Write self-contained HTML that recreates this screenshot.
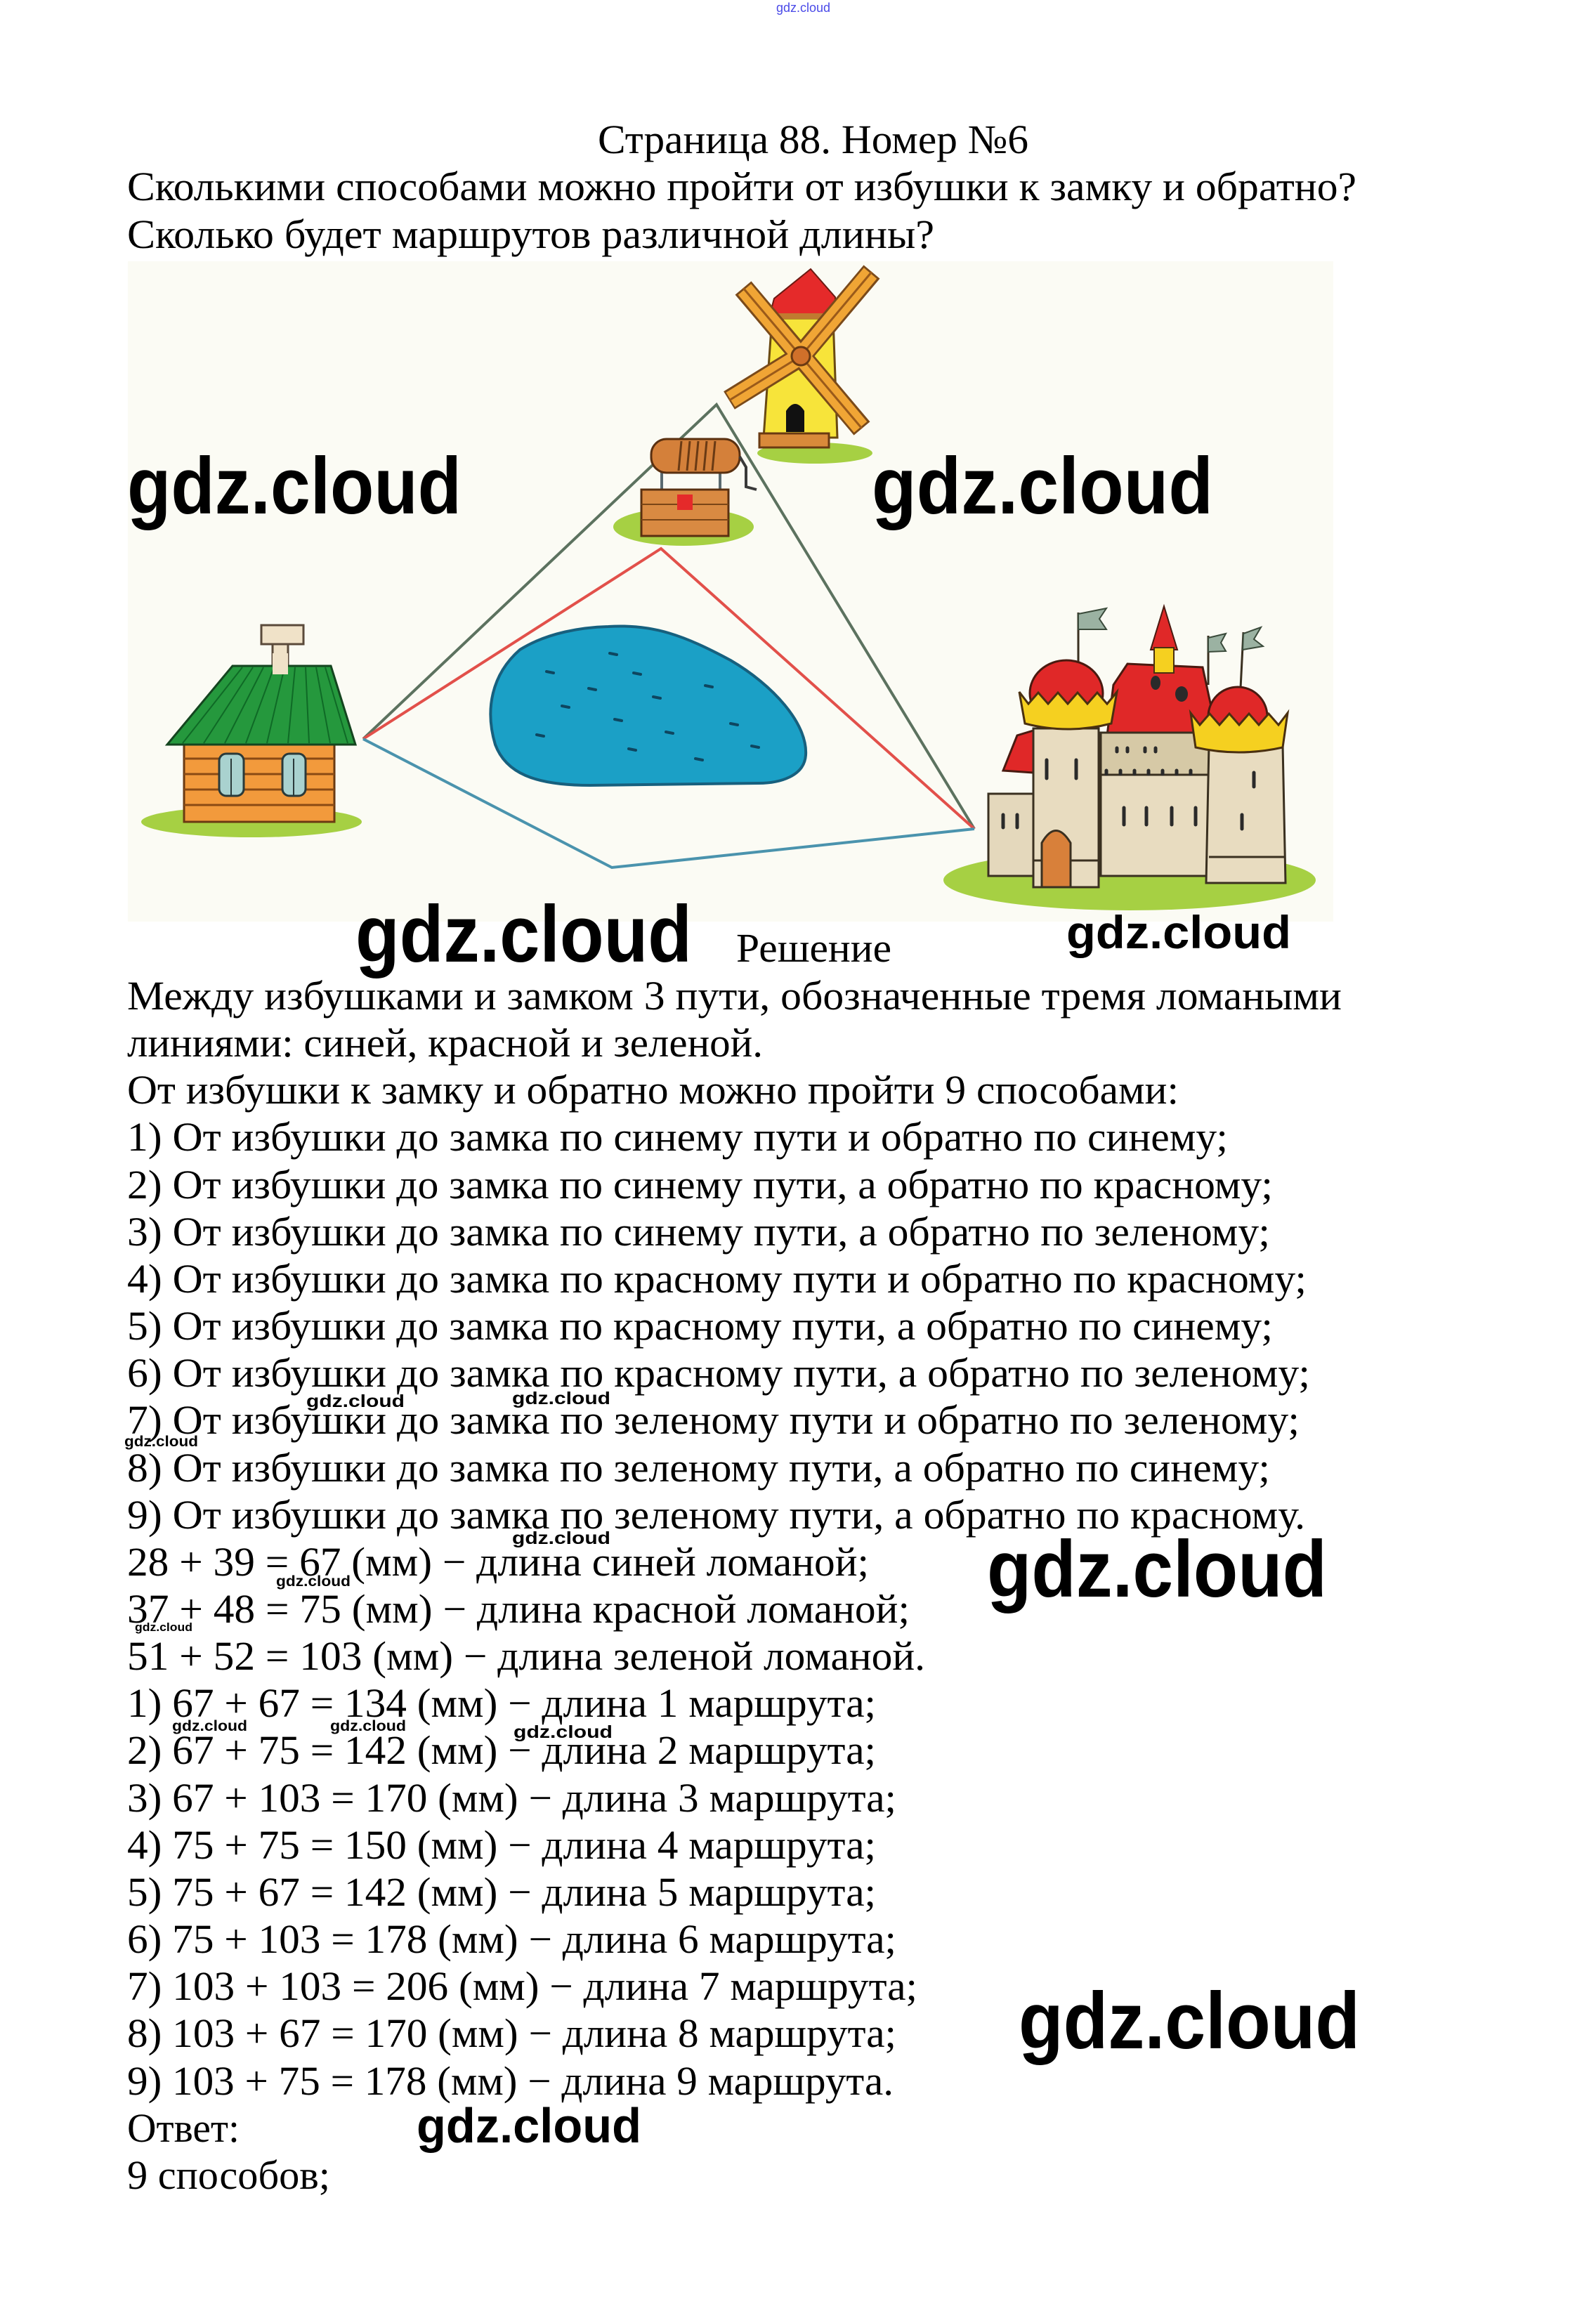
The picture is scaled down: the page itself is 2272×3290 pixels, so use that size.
<!DOCTYPE html>
<html>
<head>
<meta charset="utf-8">
<style>
html,body{margin:0;padding:0;background:#fff;}
svg{display:block;}
.t{font-family:"Liberation Serif","DejaVu Serif",serif;font-size:58px;fill:#000;}
.w{font-family:"Liberation Sans","DejaVu Sans",sans-serif;font-weight:bold;fill:#000;}
</style>
</head>
<body>
<svg width="2272" height="3290" viewBox="0 0 2272 3290" xmlns="http://www.w3.org/2000/svg">
<rect x="0" y="0" width="2272" height="3290" fill="#fff"/>

<!-- top tiny watermark -->
<text class="w" x="1105" y="17" font-size="18" font-weight="normal" fill="#4a4ae8" style="fill:#4a4ae8;font-weight:normal" textLength="77" lengthAdjust="spacingAndGlyphs">gdz.cloud</text>

<!-- header text -->
<text class="t" x="851" y="218" textLength="613" lengthAdjust="spacingAndGlyphs">Страница 88. Номер №6</text>
<text class="t" x="181" y="285" textLength="1750" lengthAdjust="spacingAndGlyphs">Сколькими способами можно пройти от избушки к замку и обратно?</text>
<text class="t" x="181" y="353" textLength="1149" lengthAdjust="spacingAndGlyphs">Сколько будет маршрутов различной длины?</text>

<!-- picture background -->
<rect x="182" y="372" width="1716" height="940" fill="#fbfbf4"/>

<!-- route lines -->
<polyline points="517,1052 1020,576 1387,1180" fill="none" stroke="#5c725f" stroke-width="4"/>
<polyline points="517,1052 941,781 1387,1180" fill="none" stroke="#e2504a" stroke-width="4"/>
<polyline points="517,1052 871,1235 1387,1180" fill="none" stroke="#4a93ad" stroke-width="4"/>

<!-- lake -->
<path d="M866 892 C930 888 975 905 1040 940 C1100 975 1150 1030 1147 1075 C1145 1105 1110 1115 1080 1115 L840 1118 C760 1118 720 1100 705 1060 C690 1010 700 960 740 925 C780 900 830 893 866 892 Z" fill="#1ba0c6" stroke="#17607e" stroke-width="4"/>
<g stroke="#0e4660" stroke-width="4" stroke-linecap="round">
<line x1="868" y1="930" x2="878" y2="932"/>
<line x1="778" y1="956" x2="788" y2="958"/>
<line x1="902" y1="958" x2="912" y2="960"/>
<line x1="838" y1="980" x2="848" y2="982"/>
<line x1="930" y1="992" x2="940" y2="994"/>
<line x1="800" y1="1005" x2="810" y2="1007"/>
<line x1="875" y1="1024" x2="885" y2="1026"/>
<line x1="948" y1="1042" x2="958" y2="1044"/>
<line x1="764" y1="1046" x2="774" y2="1048"/>
<line x1="895" y1="1066" x2="905" y2="1068"/>
<line x1="1004" y1="976" x2="1014" y2="978"/>
<line x1="1040" y1="1030" x2="1050" y2="1032"/>
<line x1="1070" y1="1062" x2="1080" y2="1064"/>
<line x1="990" y1="1080" x2="1000" y2="1082"/>
</g>

<!-- house -->
<ellipse cx="358" cy="1170" rx="157" ry="22" fill="#a6d043"/>
<rect x="388" y="915" width="22" height="50" fill="#f0e2c8" stroke="#5a4a3a" stroke-width="3"/>
<rect x="372" y="890" width="60" height="27" fill="#f0e2c8" stroke="#5a4a3a" stroke-width="3"/>
<rect x="262" y="1058" width="214" height="112" fill="#f29a3c" stroke="#6a3a12" stroke-width="3"/>
<g stroke="#8a4a14" stroke-width="3">
<line x1="262" y1="1080" x2="476" y2="1080"/>
<line x1="262" y1="1102" x2="476" y2="1102"/>
<line x1="262" y1="1124" x2="476" y2="1124"/>
<line x1="262" y1="1146" x2="476" y2="1146"/>
</g>
<rect x="312" y="1073" width="35" height="60" rx="10" fill="#a9d2cf" stroke="#2a3a3a" stroke-width="3"/>
<rect x="402" y="1073" width="33" height="60" rx="10" fill="#a9d2cf" stroke="#2a3a3a" stroke-width="3"/>
<line x1="329" y1="1080" x2="329" y2="1133" stroke="#2a3a3a" stroke-width="2"/>
<line x1="418" y1="1080" x2="418" y2="1133" stroke="#2a3a3a" stroke-width="2"/>
<polygon points="331,948 471,948 506,1060 238,1060" fill="#25983d" stroke="#14451f" stroke-width="3"/>
<g stroke="#0f6a26" stroke-width="2">
<line x1="345" y1="950" x2="260" y2="1058"/>
<line x1="360" y1="950" x2="290" y2="1058"/>
<line x1="375" y1="950" x2="320" y2="1058"/>
<line x1="390" y1="950" x2="350" y2="1058"/>
<line x1="405" y1="950" x2="380" y2="1058"/>
<line x1="420" y1="950" x2="410" y2="1058"/>
<line x1="435" y1="950" x2="440" y2="1058"/>
<line x1="450" y1="950" x2="470" y2="1058"/>
<line x1="463" y1="950" x2="495" y2="1058"/>
</g>
<rect x="388" y="930" width="22" height="30" fill="#f0e2c8"/>

<!-- well -->
<ellipse cx="973" cy="750" rx="100" ry="27" fill="#a6d043"/>
<line x1="942" y1="665" x2="942" y2="705" stroke="#5a6a70" stroke-width="4"/>
<line x1="1025" y1="665" x2="1025" y2="705" stroke="#5a6a70" stroke-width="4"/>
<rect x="913" y="697" width="124" height="66" fill="#d98a42" stroke="#5a3010" stroke-width="3"/>
<g stroke="#7a4516" stroke-width="2">
<line x1="913" y1="718" x2="1037" y2="718"/>
<line x1="913" y1="740" x2="1037" y2="740"/>
</g>
<rect x="964" y="704" width="22" height="22" fill="#e52a2a"/>
<rect x="927" y="625" width="126" height="48" rx="22" fill="#d4803a" stroke="#5a3010" stroke-width="3"/>
<g stroke="#6a3a14" stroke-width="3">
<line x1="970" y1="628" x2="966" y2="670"/>
<line x1="982" y1="628" x2="978" y2="670"/>
<line x1="994" y1="628" x2="990" y2="670"/>
<line x1="1006" y1="628" x2="1002" y2="670"/>
<line x1="1018" y1="628" x2="1014" y2="670"/>
</g>
<polyline points="1053,650 1062,665 1062,693 1077,697" fill="none" stroke="#3a3a3a" stroke-width="4"/>

<!-- windmill -->
<ellipse cx="1160" cy="645" rx="82" ry="15" fill="#a6d043"/>
<polygon points="1099,453 1186,453 1192,623 1087,623" fill="#f7e43a" stroke="#6a4a12" stroke-width="3"/>
<path d="M1119 615 L1119 585 Q1132 565 1145 585 L1145 615 Z" fill="#111"/>
<rect x="1081" y="617" width="99" height="20" fill="#d98a3a" stroke="#6a3a12" stroke-width="3"/>
<polygon points="1096,448 1102,425 1154,383 1189,423 1189,448" fill="#e52a2a" stroke="#6a1a12" stroke-width="2"/>
<rect x="1094" y="446" width="98" height="8" fill="#c07a30"/>
<g stroke-linecap="butt">
<line x1="1140" y1="507" x2="1058" y2="410" stroke="#7a4a1a" stroke-width="30"/>
<line x1="1140" y1="507" x2="1227" y2="610" stroke="#7a4a1a" stroke-width="30"/>
<line x1="1140" y1="507" x2="1241" y2="387" stroke="#7a4a1a" stroke-width="30"/>
<line x1="1140" y1="507" x2="1038" y2="570" stroke="#7a4a1a" stroke-width="30"/>
<line x1="1138" y1="505" x2="1060" y2="412" stroke="#f0a535" stroke-width="24"/>
<line x1="1142" y1="509" x2="1225" y2="608" stroke="#f0a535" stroke-width="24"/>
<line x1="1142" y1="505" x2="1239" y2="389" stroke="#f0a535" stroke-width="24"/>
<line x1="1138" y1="508" x2="1040" y2="569" stroke="#f0a535" stroke-width="24"/>
<line x1="1140" y1="507" x2="1058" y2="410" stroke="#9a5a1a" stroke-width="3"/>
<line x1="1140" y1="507" x2="1227" y2="610" stroke="#9a5a1a" stroke-width="3"/>
<line x1="1140" y1="507" x2="1241" y2="387" stroke="#9a5a1a" stroke-width="3"/>
<line x1="1140" y1="507" x2="1038" y2="570" stroke="#9a5a1a" stroke-width="3"/>
</g>
<circle cx="1140" cy="507" r="13" fill="#d0702a" stroke="#6a3a12" stroke-width="3"/>

<!-- castle -->
<ellipse cx="1608" cy="1253" rx="265" ry="43" fill="#a6d043"/>
<g stroke="#3a3020" stroke-width="3">
<line x1="1535" y1="872" x2="1535" y2="945"/>
<line x1="1720" y1="905" x2="1720" y2="975"/>
<line x1="1770" y1="900" x2="1766" y2="980"/>
</g>
<polygon points="1535,874 1575,866 1565,881 1575,896 1535,896" fill="#9bb2a2" stroke="#3a4a3a" stroke-width="2"/>
<polygon points="1720,908 1745,902 1738,915 1745,927 1720,928" fill="#9bb2a2" stroke="#3a4a3a" stroke-width="2"/>
<polygon points="1770,902 1795,893 1785,910 1798,920 1769,925" fill="#9bb2a2" stroke="#3a4a3a" stroke-width="2"/>
<polygon points="1428,1097 1448,1047 1471,1040 1471,1100" fill="#e02828" stroke="#4a1a10" stroke-width="3"/>
<rect x="1407" y="1130" width="64" height="117" fill="#e4d8bc" stroke="#3a3020" stroke-width="3"/>
<polygon points="1576,1047 1585,975 1605,945 1712,950 1733,1047" fill="#e02828" stroke="#4a1a10" stroke-width="3"/>
<polygon points="1657,863 1638,925 1676,925" fill="#e02828" stroke="#4a1a10" stroke-width="2"/>
<rect x="1643" y="922" width="28" height="36" fill="#f5d020" stroke="#4a3010" stroke-width="2"/>
<ellipse cx="1645" cy="972" rx="7" ry="10" fill="#2a2a2a"/>
<ellipse cx="1682" cy="988" rx="9" ry="11" fill="#2a2a2a"/>
<rect x="1567" y="1043" width="154" height="64" fill="#d6c9a6" stroke="#3a3020" stroke-width="3"/>
<rect x="1567" y="1103" width="169" height="144" fill="#e8dcc0" stroke="#3a3020" stroke-width="3"/>
<polygon points="1721,1060 1826,1060 1830,1257 1717,1257" fill="#e8dcc0" stroke="#3a3020" stroke-width="3"/>
<rect x="1471" y="1037" width="93" height="226" fill="#e8dcc0" stroke="#3a3020" stroke-width="3"/>
<line x1="1471" y1="1225" x2="1564" y2="1225" stroke="#3a3020" stroke-width="3"/>
<line x1="1721" y1="1220" x2="1828" y2="1220" stroke="#3a3020" stroke-width="3"/>
<g stroke="#2a2a2a" stroke-width="5" stroke-linecap="round">
<line x1="1490" y1="1082" x2="1490" y2="1108"/>
<line x1="1532" y1="1082" x2="1532" y2="1108"/>
<line x1="1428" y1="1160" x2="1428" y2="1178"/>
<line x1="1448" y1="1160" x2="1448" y2="1178"/>
<line x1="1600" y1="1150" x2="1600" y2="1174"/>
<line x1="1632" y1="1150" x2="1632" y2="1174"/>
<line x1="1668" y1="1150" x2="1668" y2="1174"/>
<line x1="1702" y1="1150" x2="1702" y2="1174"/>
<line x1="1785" y1="1100" x2="1785" y2="1120"/>
<line x1="1768" y1="1160" x2="1768" y2="1180"/>
<line x1="1590" y1="1065" x2="1590" y2="1070"/>
<line x1="1605" y1="1065" x2="1605" y2="1070"/>
<line x1="1630" y1="1065" x2="1630" y2="1070"/>
<line x1="1645" y1="1065" x2="1645" y2="1070"/>
<line x1="1575" y1="1097" x2="1575" y2="1102"/>
<line x1="1595" y1="1097" x2="1595" y2="1102"/>
<line x1="1615" y1="1097" x2="1615" y2="1102"/>
<line x1="1635" y1="1097" x2="1635" y2="1102"/>
<line x1="1655" y1="1097" x2="1655" y2="1102"/>
<line x1="1675" y1="1097" x2="1675" y2="1102"/>
<line x1="1695" y1="1097" x2="1695" y2="1102"/>
</g>
<path d="M1483 1263 L1483 1200 Q1503 1165 1524 1200 L1524 1263 Z" fill="#d8803a" stroke="#3a3020" stroke-width="3"/>
<ellipse cx="1518" cy="987" rx="52" ry="47" fill="#e02828" stroke="#4a1a10" stroke-width="3"/>
<path d="M1451 985 L1464 1002 L1478 986 L1492 1002 L1506 986 L1520 1002 L1534 986 L1548 1002 L1562 986 L1576 1002 L1590 985 L1582 1030 Q1520 1046 1459 1030 Z" fill="#f5d020" stroke="#4a3010" stroke-width="3"/>
<ellipse cx="1762" cy="1020" rx="42" ry="42" fill="#e02828" stroke="#4a1a10" stroke-width="3"/>
<path d="M1695 1015 L1708 1032 L1722 1016 L1736 1032 L1750 1016 L1764 1032 L1778 1016 L1792 1032 L1806 1016 L1820 1032 L1833 1015 L1826 1064 Q1763 1078 1702 1064 Z" fill="#f5d020" stroke="#4a3010" stroke-width="3"/>

<!-- big watermarks -->
<text class="w" x="181" y="731" font-size="114" textLength="476" lengthAdjust="spacingAndGlyphs">gdz.cloud</text>
<text class="w" x="1241" y="731" font-size="114" textLength="486" lengthAdjust="spacingAndGlyphs">gdz.cloud</text>
<text class="w" x="506" y="1369" font-size="114" textLength="479" lengthAdjust="spacingAndGlyphs">gdz.cloud</text>
<text class="w" x="1518" y="1350" font-size="66" textLength="320" lengthAdjust="spacingAndGlyphs">gdz.cloud</text>

<text class="t" x="1048" y="1369" textLength="221" lengthAdjust="spacingAndGlyphs">Решение</text>

<!-- body text -->
<text class="t" x="181" y="1437" textLength="1729" lengthAdjust="spacingAndGlyphs">Между избушками и замком 3 пути, обозначенные тремя ломаными</text>
<text class="t" x="181" y="1504" textLength="905" lengthAdjust="spacingAndGlyphs">линиями: синей, красной и зеленой.</text>
<text class="t" x="181" y="1571" textLength="1497" lengthAdjust="spacingAndGlyphs">От избушки к замку и обратно можно пройти 9 способами:</text>
<text class="t" x="181" y="1638" textLength="1567" lengthAdjust="spacingAndGlyphs">1) От избушки до замка по синему пути и обратно по синему;</text>
<text class="t" x="181" y="1706" textLength="1631" lengthAdjust="spacingAndGlyphs">2) От избушки до замка по синему пути, а обратно по красному;</text>
<text class="t" x="181" y="1773" textLength="1627" lengthAdjust="spacingAndGlyphs">3) От избушки до замка по синему пути, а обратно по зеленому;</text>
<text class="t" x="181" y="1840" textLength="1679" lengthAdjust="spacingAndGlyphs">4) От избушки до замка по красному пути и обратно по красному;</text>
<text class="t" x="181" y="1907" textLength="1631" lengthAdjust="spacingAndGlyphs">5) От избушки до замка по красному пути, а обратно по синему;</text>
<text class="t" x="181" y="1974" textLength="1684" lengthAdjust="spacingAndGlyphs">6) От избушки до замка по красному пути, а обратно по зеленому;</text>
<text class="t" x="181" y="2041" textLength="1669" lengthAdjust="spacingAndGlyphs">7) От избушки до замка по зеленому пути и обратно по зеленому;</text>
<text class="t" x="181" y="2109" textLength="1627" lengthAdjust="spacingAndGlyphs">8) От избушки до замка по зеленому пути, а обратно по синему;</text>
<text class="t" x="181" y="2176" textLength="1677" lengthAdjust="spacingAndGlyphs">9) От избушки до замка по зеленому пути, а обратно по красному.</text>
<text class="t" x="181" y="2243" textLength="1056" lengthAdjust="spacingAndGlyphs">28 + 39 = 67 (мм) − длина синей ломаной;</text>
<text class="t" x="181" y="2310" textLength="1114" lengthAdjust="spacingAndGlyphs">37 + 48 = 75 (мм) − длина красной ломаной;</text>
<text class="t" x="181" y="2377" textLength="1136" lengthAdjust="spacingAndGlyphs">51 + 52 = 103 (мм) − длина зеленой ломаной.</text>
<text class="t" x="181" y="2444" textLength="1066" lengthAdjust="spacingAndGlyphs">1) 67 + 67 = 134 (мм) − длина 1 маршрута;</text>
<text class="t" x="181" y="2511" textLength="1066" lengthAdjust="spacingAndGlyphs">2) 67 + 75 = 142 (мм) − длина 2 маршрута;</text>
<text class="t" x="181" y="2579" textLength="1095" lengthAdjust="spacingAndGlyphs">3) 67 + 103 = 170 (мм) − длина 3 маршрута;</text>
<text class="t" x="181" y="2646" textLength="1066" lengthAdjust="spacingAndGlyphs">4) 75 + 75 = 150 (мм) − длина 4 маршрута;</text>
<text class="t" x="181" y="2713" textLength="1066" lengthAdjust="spacingAndGlyphs">5) 75 + 67 = 142 (мм) − длина 5 маршрута;</text>
<text class="t" x="181" y="2780" textLength="1095" lengthAdjust="spacingAndGlyphs">6) 75 + 103 = 178 (мм) − длина 6 маршрута;</text>
<text class="t" x="181" y="2847" textLength="1125" lengthAdjust="spacingAndGlyphs">7) 103 + 103 = 206 (мм) − длина 7 маршрута;</text>
<text class="t" x="181" y="2914" textLength="1095" lengthAdjust="spacingAndGlyphs">8) 103 + 67 = 170 (мм) − длина 8 маршрута;</text>
<text class="t" x="181" y="2982" textLength="1091" lengthAdjust="spacingAndGlyphs">9) 103 + 75 = 178 (мм) − длина 9 маршрута.</text>
<text class="t" x="181" y="3049" textLength="160" lengthAdjust="spacingAndGlyphs">Ответ:</text>
<text class="t" x="181" y="3116" textLength="289" lengthAdjust="spacingAndGlyphs">9 способов;</text>

<!-- lower watermarks -->
<text class="w" x="1405" y="2273" font-size="114" textLength="484" lengthAdjust="spacingAndGlyphs">gdz.cloud</text>
<text class="w" x="1450" y="2916" font-size="114" textLength="486" lengthAdjust="spacingAndGlyphs">gdz.cloud</text>
<text class="w" x="593" y="3050" font-size="70" textLength="320" lengthAdjust="spacingAndGlyphs">gdz.cloud</text>

<!-- small watermarks -->
<g class="w" style="font-weight:normal">
<text class="w" x="436" y="2003" font-size="25" textLength="140" lengthAdjust="spacingAndGlyphs">gdz.cloud</text>
<text class="w" x="729" y="1999" font-size="25" textLength="140" lengthAdjust="spacingAndGlyphs">gdz.cloud</text>
<text class="w" x="177" y="2059" font-size="21" textLength="105" lengthAdjust="spacingAndGlyphs">gdz.cloud</text>
<text class="w" x="729" y="2198" font-size="25" textLength="140" lengthAdjust="spacingAndGlyphs">gdz.cloud</text>
<text class="w" x="393" y="2258" font-size="21" textLength="106" lengthAdjust="spacingAndGlyphs">gdz.cloud</text>
<text class="w" x="192" y="2322" font-size="17" textLength="82" lengthAdjust="spacingAndGlyphs">gdz.cloud</text>
<text class="w" x="245" y="2464" font-size="21" textLength="107" lengthAdjust="spacingAndGlyphs">gdz.cloud</text>
<text class="w" x="470" y="2464" font-size="21" textLength="108" lengthAdjust="spacingAndGlyphs">gdz.cloud</text>
<text class="w" x="731" y="2474" font-size="25" textLength="141" lengthAdjust="spacingAndGlyphs">gdz.cloud</text>
</g>
</svg>
</body>
</html>
